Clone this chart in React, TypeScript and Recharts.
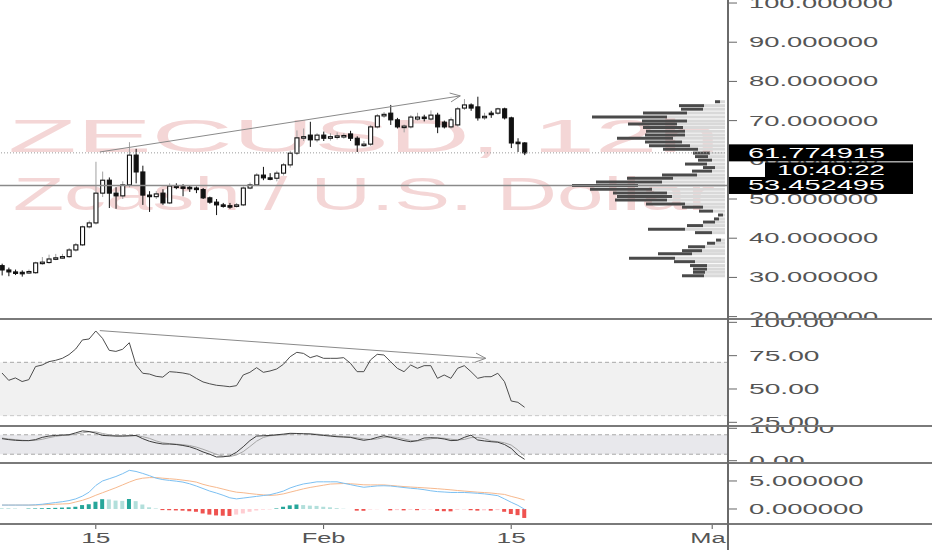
import React from 'react';
import { ComposedChart, BarChart, Bar, Line, XAxis, YAxis, ReferenceLine, ReferenceArea, Cell } from 'recharts';

// 12h candles, index 0 = Jan 8 00:00
const CANDLE_INDEX = Array.from({ length: 79 }, (_, i) => i);
const OPEN = [33.0, 31.9, 31.4, 31.3, 31.2, 31.2, 33.7, 33.8, 34.7, 35.0, 35.3, 37.0, 38.3, 42.9, 43.9, 51.5, 54.8, 51.5, 50.8, 53.6, 61.2, 56.9, 51.0, 50.6, 51.5, 49.0, 53.3, 53.1, 53.0, 52.8, 52.4, 50.3, 49.2, 48.5, 48.3, 48.2, 48.5, 52.8, 53.6, 56.1, 55.4, 55.3, 56.6, 58.7, 61.7, 65.6, 66.3, 65.1, 66.3, 65.5, 65.9, 66.1, 66.6, 65.5, 63.8, 64.0, 68.4, 71.2, 71.9, 70.2, 68.4, 68.4, 70.4, 70.9, 70.4, 71.4, 69.6, 68.4, 68.9, 73.2, 74.0, 73.5, 70.9, 71.9, 71.9, 73.0, 70.7, 64.5, 64.3];
const HIGH = [33.5, 32.5, 32.0, 31.8, 32.0, 34.0, 35.2, 35.8, 36.0, 36.0, 37.5, 38.8, 43.2, 44.5, 59.5, 57.0, 55.5, 53.0, 54.5, 64.5, 62.8, 58.5, 52.0, 52.0, 52.5, 54.0, 54.0, 53.8, 53.5, 53.2, 52.8, 50.6, 50.0, 49.0, 49.0, 49.0, 53.2, 54.2, 56.6, 58.2, 56.6, 57.2, 59.2, 62.3, 67.5, 68.0, 69.7, 66.8, 67.2, 66.8, 67.0, 66.8, 67.4, 66.0, 64.8, 68.9, 71.7, 72.2, 74.0, 70.7, 69.0, 71.4, 72.0, 71.5, 72.6, 72.0, 70.0, 70.8, 73.5, 75.5, 74.4, 76.1, 72.0, 72.5, 73.3, 73.3, 71.0, 65.5, 64.5];
const LOW = [30.5, 30.3, 30.6, 30.2, 30.9, 30.9, 33.2, 33.5, 34.4, 34.8, 35.0, 36.6, 38.0, 42.5, 43.5, 50.5, 47.7, 47.5, 50.0, 53.0, 54.0, 48.5, 46.7, 50.0, 48.5, 48.7, 52.5, 50.7, 51.8, 51.5, 50.0, 48.8, 45.9, 47.8, 47.5, 47.8, 48.2, 52.5, 53.3, 54.8, 54.8, 54.5, 56.0, 58.0, 61.2, 64.8, 63.3, 64.5, 64.8, 64.9, 65.2, 65.4, 64.8, 62.0, 63.3, 63.5, 68.0, 70.7, 68.9, 68.0, 67.0, 68.0, 70.0, 69.8, 70.0, 66.8, 68.0, 68.0, 68.5, 72.7, 72.5, 70.0, 70.2, 70.7, 71.5, 70.3, 63.0, 62.0, 61.2];
const CLOSE = [31.9, 31.4, 31.3, 31.2, 31.5, 33.7, 33.9, 34.7, 35.0, 35.3, 37.0, 38.3, 42.9, 43.9, 51.5, 54.8, 51.5, 50.8, 53.6, 61.2, 56.9, 51.0, 50.6, 51.3, 49.0, 53.3, 53.1, 53.0, 52.8, 52.4, 50.3, 49.2, 48.5, 48.3, 48.2, 48.5, 52.8, 53.6, 56.1, 55.4, 55.3, 56.6, 58.7, 61.7, 65.6, 65.9, 65.1, 66.3, 65.5, 65.9, 66.1, 66.2, 65.5, 63.8, 64.0, 68.4, 71.2, 71.6, 70.2, 68.4, 68.6, 70.9, 70.9, 70.7, 71.4, 68.4, 68.4, 70.2, 73.0, 74.0, 73.2, 70.7, 71.1, 71.8, 73.0, 70.7, 64.3, 64.2, 61.774915];

const RSI = [62, 56.5, 58.3, 55.6, 57, 66.8, 68, 70.5, 71.5, 73, 75.8, 80, 86.8, 87.5, 93.5, 88, 79, 78.2, 79.8, 84.7, 68, 61.8, 61.2, 59.5, 58.9, 63, 62.6, 62, 61, 58, 55.3, 53.9, 52.8, 52.3, 51.7, 52.5, 60.5, 62.5, 66, 62.5, 63.5, 65, 68.5, 74.2, 77.5, 76.7, 73.5, 75, 73, 73, 73, 73.5, 69.3, 63, 63, 71.8, 76, 75.5, 70.5, 65.5, 63, 68, 65.5, 67.5, 67.5, 58, 60.5, 58, 65.5, 67.5, 63, 58, 59.2, 59.2, 61.8, 55.5, 41, 40, 36.3];

const STOCH_K = [68, 65, 63, 62, 62, 65, 72, 76, 78, 79, 80, 86, 92, 90, 85, 78, 77, 76, 76, 77, 78, 68, 60, 55, 51.5, 51.5, 50, 47, 43, 36, 27, 20, 11.5, 12, 15, 26, 43, 62, 76, 77, 78, 80, 82, 84.5, 84, 83, 82.4, 80, 78, 76, 74, 73, 72, 67, 63, 66, 72, 77, 72, 67, 62, 58.6, 62, 70, 71, 70, 67, 62, 63, 72, 79, 64, 61, 58.6, 57, 50, 38, 17.6, 4.3];
const STOCH_D = [70, 67, 65, 63, 62, 63, 66, 71, 75, 78, 79, 82, 86, 89, 89, 84, 80, 77, 76.5, 76.5, 77, 74, 69, 61, 55.5, 52.5, 51, 49.5, 46.7, 42, 35.3, 27.7, 19.5, 14.5, 12.8, 17.7, 28, 43.7, 60.3, 71.7, 77, 78.3, 80, 82.2, 83.5, 83.8, 83.1, 81.8, 80.1, 78, 76, 74.3, 73, 70.7, 67.3, 65.3, 67, 71.7, 73.7, 72, 67, 62.5, 60.9, 63.5, 67.7, 70.3, 69.3, 66.3, 64, 65.7, 71.3, 71.7, 68, 61.2, 58.9, 55.2, 48.3, 33, 14];

const MACD = [0.7, 0.7, 0.7, 0.7, 0.7, 0.75, 0.85, 1.0, 1.15, 1.3, 1.5, 1.8, 2.3, 3.0, 4.2, 5.0, 5.4, 5.8, 6.3, 6.9, 6.7, 6.35, 5.95, 5.5, 5.25, 5.1, 4.97, 4.8, 4.5, 4.1, 3.65, 3.2, 2.85, 2.45, 2.0, 1.8, 1.95, 2.1, 2.25, 2.4, 2.55, 2.85, 3.2, 3.75, 4.15, 4.47, 4.65, 4.85, 4.85, 4.85, 4.85, 4.6, 4.35, 4.1, 3.88, 4.0, 4.12, 4.15, 4.1, 3.97, 3.83, 3.7, 3.6, 3.45, 3.25, 3.1, 3.03, 2.95, 2.95, 2.95, 2.88, 2.8, 2.7, 2.55, 2.38, 1.8, 1.2, 0.65, -0.05];
const SIGNAL = [0.7, 0.7, 0.7, 0.7, 0.7, 0.7, 0.75, 0.8, 0.85, 0.9, 0.95, 1.25, 1.55, 1.95, 2.45, 2.9, 3.35, 3.8, 4.3, 4.8, 5.25, 5.5, 5.6, 5.6, 5.5, 5.4, 5.3, 5.15, 5.0, 4.8, 4.4, 4.1, 3.85, 3.55, 3.25, 3.0, 2.9, 2.75, 2.62, 2.52, 2.42, 2.5, 2.7, 3.0, 3.3, 3.6, 3.85, 4.05, 4.25, 4.45, 4.5, 4.55, 4.5, 4.42, 4.32, 4.3, 4.3, 4.3, 4.2, 4.1, 4.0, 3.92, 3.85, 3.78, 3.7, 3.62, 3.52, 3.42, 3.3, 3.2, 3.1, 3.0, 2.93, 2.85, 2.72, 2.6, 2.25, 1.95, 1.6];
const HIST = [0.15, 0.12, 0.1, 0, 0.08, 0.1, 0.14, 0.18, 0.2, 0.25, 0.3, 0.4, 0.7, 0.85, 1.3, 1.75, 1.7, 1.5, 1.45, 1.8, 1.4, 0.8, 0.3, 0.1, -0.2, -0.22, -0.26, -0.3, -0.4, -0.5, -0.8, -1.0, -1.15, -1.2, -1.25, -1.0, -0.8, -0.5, -0.25, -0.12, -0.08, 0.1, 0.4, 0.65, 0.8, 0.7, 0.6, 0.55, 0.4, 0.3, 0.15, 0.05, 0, -0.3, -0.32, -0.1, -0.05, 0, -0.25, -0.2, -0.25, -0.15, -0.22, -0.12, -0.1, -0.35, -0.4, -0.42, -0.15, -0.1, -0.22, -0.3, -0.25, -0.3, -0.2, -0.5, -0.9, -1.1, -1.6];

// visible-range volume profile
const PROFILE_PRICE = [74.8, 73.8, 72.9, 71.9, 70.9, 69.9, 69.1, 68.2, 67.3, 66.3, 65.5, 64.5, 63.6, 62.7, 61.7, 60.8, 59.9, 58.9, 58.0, 57.1, 56.1, 55.3, 54.3, 53.4, 52.5, 51.5, 50.6, 49.7, 48.7, 47.9, 46.9, 45.9, 44.9, 44.1, 43.2, 42.3, 41.4, 39.5, 38.7, 37.8, 36.8, 36.0, 34.9, 34.0, 33.0, 32.1, 31.3, 30.4];
const PROFILE_UP = [5, 21, 22, 38, 58, 38, 48, 42, 40, 40, 52, 43, 35, 27, 15, 17, 13, 18, 10, 13, 28, 52, 63, 87, 73, 58, 53, 58, 40, 22, 12, 2, 6, 10, 22, 40, 13, 4, 10, 20, 23, 33, 50, 30, 18, 18, 20, 21];
const PROFILE_DOWN = [5, 25, 22, 44, 75, 45, 49, 40, 39, 40, 56, 37, 41, 35, 17, 13, 14, 22, 12, 20, 35, 46, 66, 66, 62, 54, 55, 52, 39, 21, 14, 5, 5, 12, 16, 37, 17, 5, 8, 17, 20, 34, 46, 21, 17, 14, 12, 22];

const PRICE_TICKS = [20, 30, 40, 50, 60, 70, 80, 90, 100];
const RSI_TICKS = [25, 50, 75, 100];
const STOCH_TICKS = [0, 100];
const MACD_TICKS = [0, 5];
const X_TICKS = [14, 48, 76, 106];
const X_LABELS = ['15', 'Feb', '15', 'Mar'];

const LAST_PRICE = 61.774915;
const LEVEL_PRICE = 53.452495;
const COUNTDOWN = '10:40:22';
const PRICE_TREND = [{ x: 14.6, y: 62.0 }, { x: 68.4, y: 76.3 }];
const RSI_TREND = [{ x: 14.6, y: 93.8 }, { x: 72.2, y: 73.0 }];

const X_DOMAIN: [number, number] = [-0.3, 108.36];
const PRICE_DOMAIN: [number, number] = [19.39, 100.77];
const FONT = 'Liberation Sans, Arial, sans-serif';
const AXIS_TEXT = '#555';

const rows = CANDLE_INDEX.map((i) => ({
  i,
  o: OPEN[i], h: HIGH[i], l: LOW[i], c: CLOSE[i],
  rsi: RSI[i], k: STOCH_K[i], d: STOCH_D[i],
  macd: MACD[i], signal: SIGNAL[i], hist: HIST[i],
}));
const profile = PROFILE_PRICE.map((p, j) => ({ p, up: PROFILE_UP[j], down: PROFILE_DOWN[j] }));

const histColor = (j: number) => {
  const v = HIST[j];
  const prev = j > 0 ? HIST[j - 1] : v + 1;
  if (v >= 0) return v > prev ? '#26a69a' : '#b2dfdb';
  return v < prev ? '#ef5350' : '#ffcdd2';
};

const Candle = (props: any) => {
  const { x, y, width, height, payload } = props;
  if (!payload || x == null) return null;
  const top = Math.min(y, y + height);
  const span = Math.abs(height);
  const range = payload.h - payload.l;
  const k = range > 0 ? span / range : 0;
  const yO = top + (payload.h - payload.o) * k;
  const yC = top + (payload.h - payload.c) * k;
  const up = payload.c >= payload.o;
  const cx = x + width / 2;
  const bt = Math.min(yO, yC);
  const bh = Math.max(1.5, Math.abs(yC - yO));
  return (
    <g>
      <line x1={cx} x2={cx} y1={top} y2={top + span} stroke={up ? '#a0a0a0' : '#111'} strokeWidth={1} />
      <rect x={x + 0.5} y={bt} width={Math.max(1, width - 1)} height={bh} fill={up ? '#fff' : '#111'} stroke="#111" strokeWidth={1.1} />
    </g>
  );
};

const Arrow = (props: any) => {
  const { x1, y1, x2, y2 } = props;
  if (x1 == null) return null;
  const a = Math.atan2(y2 - y1, x2 - x1);
  const L = 11;
  const s = 0.42;
  return (
    <g>
      <line x1={x1} y1={y1} x2={x2} y2={y2} stroke="#8a8a8a" strokeWidth={1} />
      <line x1={x2} y1={y2} x2={x2 - L * Math.cos(a - s)} y2={y2 - L * Math.sin(a - s)} stroke="#8a8a8a" strokeWidth={1} />
      <line x1={x2} y1={y2} x2={x2 - L * Math.cos(a + s)} y2={y2 - L * Math.sin(a + s)} stroke="#8a8a8a" strokeWidth={1} />
    </g>
  );
};

const makeYTick = (decimals: number) => (p: any) => {
  const s = Number(p.payload.value).toFixed(decimals);
  return (
    <text x={749} y={p.y} dy={5} fontSize={14} fill={AXIS_TEXT} fontFamily={FONT} textLength={s.length * 14.7 - 3} lengthAdjust="spacingAndGlyphs">
      {s}
    </text>
  );
};

const XTick = (p: any) => {
  const idx = X_TICKS.indexOf(p.payload.value);
  const s = idx >= 0 ? X_LABELS[idx] : '';
  return (
    <svg x={0} y={0} width={729} height={87} overflow="hidden">
      <text x={p.x} y={80} textAnchor="middle" fontSize={14} fill={AXIS_TEXT} fontFamily={FONT} textLength={s.length * 14.6} lengthAdjust="spacingAndGlyphs">
        {s}
      </text>
    </svg>
  );
};

const PriceBox = (p: any) => {
  const vb = p.viewBox || {};
  const y = vb.y;
  if (y == null) return null;
  return (
    <g>
      <rect x={727} y={y - 8.5} width={186} height={17} fill="#000" />
      <text x={748} y={y + 5} fill="#fff" fontSize={14} fontFamily={FONT} textLength={137} lengthAdjust="spacingAndGlyphs">{p.text}</text>
      {p.countdown ? (
        <g>
          <rect x={765} y={y + 9.5} width={148} height={16} fill="#000" />
          <text x={885} y={y + 22.5} textAnchor="end" fill="#fff" fontSize={14} fontFamily={FONT} textLength={108} lengthAdjust="spacingAndGlyphs">{COUNTDOWN}</text>
        </g>
      ) : null}
    </g>
  );
};

const sep = (top: number): React.CSSProperties => ({ position: 'absolute', left: 0, top: top - 1, width: 932, height: 2, background: '#7a7a7a' });

export default function App() {
  return (
    <div style={{ position: 'absolute', left: 0, top: 0, width: 932, height: 550, background: '#fff', overflow: 'hidden' }}>
      {/* watermark */}
      <svg width={728} height={319} style={{ position: 'absolute', left: 0, top: 0 }}>
        <text x={364} y={152} textAnchor="middle" fontSize={47} fill="#f4d6d6" fontFamily={FONT} textLength={712} lengthAdjust="spacingAndGlyphs">ZECUSD, 12h</text>
        <text x={364} y={210} textAnchor="middle" fontSize={47} fill="#f4d6d6" fontFamily={FONT} textLength={702} lengthAdjust="spacingAndGlyphs">Zcash / U.S. Dollar</text>
      </svg>

      {/* volume profile */}
      <div style={{ position: 'absolute', left: 0, top: 0 }}>
        <BarChart layout="vertical" width={932} height={319} data={profile} margin={{ top: 0, right: 204, bottom: 0, left: 0 }} barCategoryGap={0}>
          <XAxis type="number" hide domain={[-3, 725]} reversed allowDataOverflow />
          <YAxis type="number" dataKey="p" hide domain={PRICE_DOMAIN} reversed allowDataOverflow />
          <Bar dataKey="up" stackId="v" fill="#d9d9d9" barSize={3} isAnimationActive={false} />
          <Bar dataKey="down" stackId="v" fill="#4a4a4a" barSize={3} isAnimationActive={false} />
        </BarChart>
      </div>

      {/* price pane */}
      <div style={{ position: 'absolute', left: 0, top: 0 }}>
        <ComposedChart width={932} height={319} data={rows} margin={{ top: 0, right: 0, bottom: 0, left: 0 }}>
          <XAxis dataKey="i" type="number" domain={X_DOMAIN} hide allowDataOverflow />
          <YAxis orientation="right" width={204} domain={PRICE_DOMAIN} ticks={PRICE_TICKS} interval={0} allowDataOverflow
            axisLine={false} tickLine={{ stroke: '#666' }} tickSize={9} tick={makeYTick(6)} />
          <ReferenceLine y={LAST_PRICE} stroke="#9a9a9a" strokeDasharray="1 2" />
          <ReferenceLine y={LEVEL_PRICE} stroke="#8a8a8a" strokeWidth={1.5} />
          <Bar dataKey={(d: any) => [d.l, d.h]} barSize={5} shape={Candle} isAnimationActive={false} />
          <ReferenceLine segment={PRICE_TREND} shape={Arrow} />
        </ComposedChart>
      </div>

      {/* price labels on the scale (drawn on top) */}
      <div style={{ position: 'absolute', left: 0, top: 0 }}>
        <ComposedChart width={932} height={319} data={rows} margin={{ top: 0, right: 204, bottom: 0, left: 0 }}>
          <XAxis dataKey="i" type="number" domain={X_DOMAIN} hide allowDataOverflow />
          <YAxis hide domain={PRICE_DOMAIN} allowDataOverflow />
          <ReferenceLine y={LAST_PRICE} stroke="none" label={(p: any) => <PriceBox {...p} text={LAST_PRICE.toFixed(6)} countdown />} />
          <ReferenceLine y={LEVEL_PRICE} stroke="none" label={(p: any) => <PriceBox {...p} text={LEVEL_PRICE.toFixed(6)} />} />
        </ComposedChart>
      </div>

      {/* RSI pane */}
      <div style={{ position: 'absolute', left: 0, top: 319 }}>
        <ComposedChart width={932} height={107} data={rows} margin={{ top: 0, right: 0, bottom: 0, left: 0 }}>
          <XAxis dataKey="i" type="number" domain={X_DOMAIN} hide allowDataOverflow />
          <YAxis orientation="right" width={204} domain={[22.24, 102.5]} ticks={RSI_TICKS} interval={0} allowDataOverflow
            axisLine={false} tickLine={{ stroke: '#666' }} tickSize={9} tick={makeYTick(2)} />
          <ReferenceArea y1={30} y2={70} fill="#f1f1f1" fillOpacity={1} stroke="none" />
          <ReferenceLine y={70} stroke="#a8a8a8" strokeDasharray="4 3" />
          <ReferenceLine y={30} stroke="#c8c8c8" strokeDasharray="4 3" />
          <Line dataKey="rsi" stroke="#4d4d4d" strokeWidth={1} dot={false} isAnimationActive={false} />
          <ReferenceLine segment={RSI_TREND} shape={Arrow} />
        </ComposedChart>
      </div>

      {/* Stochastic pane */}
      <div style={{ position: 'absolute', left: 0, top: 426 }}>
        <ComposedChart width={932} height={37} data={rows} margin={{ top: 0, right: 0, bottom: 0, left: 0 }}>
          <XAxis dataKey="i" type="number" domain={X_DOMAIN} hide allowDataOverflow />
          <YAxis orientation="right" width={204} domain={[-7.1, 107.1]} ticks={STOCH_TICKS} interval={0} allowDataOverflow
            axisLine={false} tickLine={{ stroke: '#666' }} tickSize={9} tick={makeYTick(2)} />
          <ReferenceArea y1={20} y2={80} fill="#e8e8ec" fillOpacity={1} stroke="none" />
          <ReferenceLine y={80} stroke="#a8a8a8" strokeDasharray="4 3" />
          <ReferenceLine y={20} stroke="#a8a8a8" strokeDasharray="4 3" />
          <Line dataKey="d" stroke="#a6a6a6" strokeWidth={1} dot={false} isAnimationActive={false} />
          <Line dataKey="k" stroke="#3d3d3d" strokeWidth={1} dot={false} isAnimationActive={false} />
        </ComposedChart>
      </div>

      {/* MACD pane + time axis */}
      <div style={{ position: 'absolute', left: 0, top: 463 }}>
        <ComposedChart width={932} height={87} data={rows} margin={{ top: 0, right: 0, bottom: 0, left: 0 }}>
          <XAxis dataKey="i" type="number" domain={X_DOMAIN} allowDataOverflow ticks={X_TICKS} interval={0} height={26}
            axisLine={false} tickLine={{ stroke: '#555' }} tickSize={5} tick={XTick} />
          <YAxis orientation="right" width={204} domain={[-2.68, 8.21]} ticks={MACD_TICKS} interval={0} allowDataOverflow
            axisLine={false} tickLine={{ stroke: '#666' }} tickSize={9} tick={makeYTick(6)} />
          <Bar dataKey="hist" barSize={4} isAnimationActive={false}>
            {rows.map((r) => (
              <Cell key={r.i} fill={histColor(r.i)} />
            ))}
          </Bar>
          <Line dataKey="signal" stroke="#f7b98e" strokeWidth={1} dot={false} isAnimationActive={false} />
          <Line dataKey="macd" stroke="#7cc0f2" strokeWidth={1} dot={false} isAnimationActive={false} />
        </ComposedChart>
      </div>

      {/* pane separators and price-scale border */}
      <div style={sep(319)} />
      <div style={sep(426)} />
      <div style={sep(463)} />
      <div style={sep(524)} />
      <div style={{ position: 'absolute', left: 727, top: 0, width: 2, height: 550, background: '#6a6a6a' }} />
    </div>
  );
}
